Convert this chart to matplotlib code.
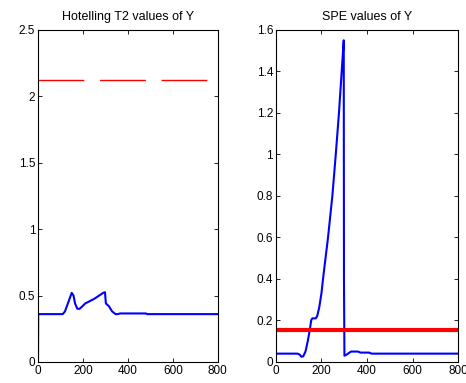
import matplotlib
matplotlib.use("Agg")
import matplotlib.pyplot as plt
from matplotlib.ticker import FormatStrFormatter

plt.rcParams['font.family'] = ['Liberation Sans', 'DejaVu Sans']

# ------------------ datos ------------------
# Hotelling T2
t2_x = [0, 1, 100, 110, 120, 135, 150, 158, 165, 175, 185, 195, 210, 250, 290, 298, 302, 315, 330, 345, 355, 365, 480, 485, 800]
t2_y = [0, 0.36, 0.36, 0.36, 0.38, 0.45, 0.52, 0.50, 0.44, 0.40, 0.40, 0.415, 0.44, 0.475, 0.52, 0.525, 0.44, 0.42, 0.38, 0.36, 0.36, 0.365, 0.365, 0.36, 0.36]
t2_limite = 2.12

# SPE
spe_x = [0, 95, 105, 112, 120, 130, 140, 149, 155, 160, 175, 181, 190, 200, 207, 218, 229, 248, 263, 277, 289, 298, 299, 301, 310, 330, 345, 360, 372, 410, 420, 800]
spe_y = [0.04, 0.04, 0.035, 0.025, 0.027, 0.05, 0.10, 0.155, 0.20, 0.21, 0.21, 0.22, 0.26, 0.33, 0.40, 0.50, 0.60, 0.80, 1.00, 1.20, 1.40, 1.55, 0.40, 0.03, 0.035, 0.05, 0.05, 0.05, 0.045, 0.045, 0.04, 0.04]
spe_limite = 0.155

xticks = [0, 200, 400, 600, 800]

# ------------------ figura ------------------
fig = plt.figure(figsize=(4.66, 3.83), dpi=100)
ax1 = fig.add_axes([0.0815, 0.055, 0.386, 0.867])
ax2 = fig.add_axes([0.592, 0.055, 0.391, 0.867])

ax1.plot(t2_x, t2_y, color='blue', lw=1.5)
ax1.plot([0, 800], [t2_limite, t2_limite], color='red', lw=1, linestyle=(0, (33, 11.3)))
ax1.set_xlim(0, 800)
ax1.set_ylim(0, 2.5)
ax1.set_yticks([0, 0.5, 1, 1.5, 2, 2.5])
ax1.set_title('Hotelling T2 values of Y', fontsize=9, pad=7)

ax2.plot(spe_x, spe_y, color='blue', lw=1.5)
ax2.axhline(spe_limite, color='red', lw=3)
ax2.set_xlim(0, 800)
ax2.set_ylim(0, 1.6)
ax2.set_yticks([0, 0.2, 0.4, 0.6, 0.8, 1, 1.2, 1.4, 1.6])
ax2.set_title('SPE values of Y', fontsize=9, pad=7)

for ax in (ax1, ax2):
    ax.set_xticks(xticks)
    ax.yaxis.set_major_formatter(FormatStrFormatter('%g'))
    ax.tick_params(direction='in', top=True, right=True, length=3, width=0.6, labelsize=8.5, pad=2)
    for s in ax.spines.values():
        s.set_linewidth(0.8)

fig.savefig('out.png', dpi=100)
